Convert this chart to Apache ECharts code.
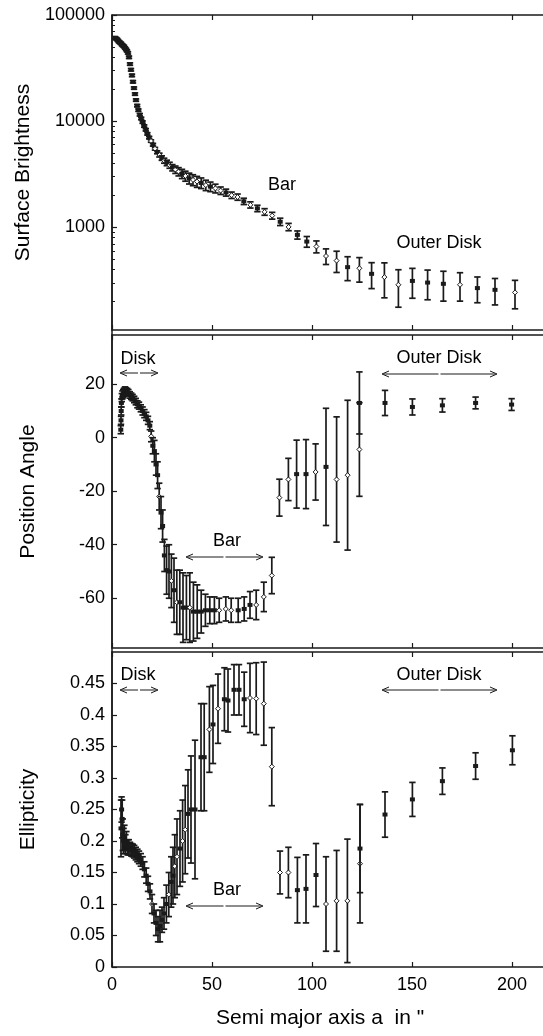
<!DOCTYPE html>
<html>
<head>
<meta charset="utf-8">
<script src="https://cdn.jsdelivr.net/npm/echarts@6/dist/echarts.min.js"></script>
<style>html,body{margin:0;padding:0;background:#fff;overflow:hidden}#main{width:543px;height:1036px}</style>
</head>
<body>
<div id="main"></div>
<script>
// semi major axis (") for each profile, value, error (+/-), marker open (1) or filled (0)
var sbX = [1.5, 2, 2.5, 3, 3.5, 4, 4.5, 5, 5.5, 6, 6.5, 7, 7.5, 8, 8.5, 9, 9.5, 10, 10.5, 11,
  11.5, 12, 12.6, 13.2, 13.9, 14.6, 15.3, 16.1, 16.9, 17.7, 18.6, 19.5, 20.5, 21.5, 22.6, 23.7, 24.9, 26.1, 27.4, 28.8,
  30.2, 31.7, 33.3, 35, 36.7, 38.6, 40.5, 42.5, 44.6, 46.9, 49.2, 51.7, 54.3, 57, 59.8, 62.8, 65.9, 69.2, 72.7, 76.3,
  80.1, 84.1, 88.3, 92.7, 97.4, 102.2, 107, 112.3, 117.8, 123.7, 129.8, 136.2, 143.2, 150.2, 157.8, 165.7, 174, 182.7, 191.5, 201.5];
var sbY = [61000, 60000, 59000, 57500, 56000, 55000, 54000, 52500, 51500, 50500, 49000, 47500, 46000, 44000, 40000, 34500, 30500, 27000, 23500, 20500,
  18000, 15800, 14000, 12700, 11500, 10600, 9800, 9000, 8300, 7600, 7000, 6500, 6000, 5500, 5100, 4800, 4500, 4250, 4050, 3850,
  3650, 3500, 3350, 3200, 3050, 2900, 2800, 2700, 2620, 2500, 2420, 2330, 2220, 2130, 2010, 1930, 1760, 1630, 1510, 1400,
  1290, 1130, 1010, 850, 735, 660, 537, 486, 422, 412, 365, 340, 288, 313, 302, 294, 288, 268, 258, 244];
var sbE = [1500, 1500, 1500, 1400, 1400, 1400, 1300, 1300, 1300, 1300, 1200, 1200, 1100, 1100, 1000, 900, 800, 700, 600, 500,
  450, 400, 350, 320, 300, 270, 250, 230, 210, 190, 180, 170, 170, 160, 160, 200, 220, 230, 240, 250,
  250, 280, 300, 320, 330, 340, 330, 320, 300, 280, 250, 220, 180, 160, 140, 130, 120, 110, 105, 100,
  95, 90, 80, 75, 85, 85, 90, 110, 107, 107, 100, 123, 111, 98, 94, 92, 86, 73, 72, 73];
var sbO = [0, 0, 0, 0, 0, 0, 0, 0, 0, 0, 0, 0, 0, 0, 0, 0, 0, 0, 0, 0,
  0, 0, 0, 0, 0, 0, 0, 0, 0, 0, 0, 1, 0, 1, 0, 1, 0, 1, 0, 1,
  0, 1, 1, 0, 1, 0, 1, 1, 0, 1, 0, 1, 1, 0, 1, 1, 0, 1, 0, 1,
  1, 0, 1, 0, 0, 1, 1, 1, 0, 1, 0, 1, 1, 0, 0, 0, 1, 0, 0, 1];

var paX = [4.4, 4.5, 4.6, 4.7, 4.9, 5.2, 5.6, 6.0, 6.5, 7.0, 7.6, 8.2, 8.9, 9.6, 10.3, 11.1, 11.9, 12.7, 13.5, 14.4,
  15.3, 16.2, 17.1, 18.0, 18.9, 19.6, 20.4, 21.2, 22.0, 22.8, 23.6, 24.5, 25.3, 26.2, 27.3, 28.5, 29.7, 31.0, 32.4, 33.9,
  35.5, 37.2, 38.9, 40.7, 42.6, 44.6, 46.7, 48.9, 51.2, 53.6, 56.9, 59.6, 63.1, 66.1, 69.0, 72.1, 75.9, 79.9, 83.7, 88.2,
  92.3, 97.0, 101.8, 107.0, 112.3, 117.8, 123.7, 123.7, 136.5, 150.2, 165.2, 181.8, 199.8];
var paY = [3, 6.5, 10, 13, 15, 16, 16.5, 17, 17.5, 17.5, 17.2, 16.8, 16, 15.5, 15, 14.3, 13.5, 12.5, 12, 11,
  10, 9, 8, 6.5, 4.5, 0.5, -3, -5, -10, -14, -22, -28, -33, -44, -49.5, -50, -53.5, -57, -61.5, -61.5,
  -63.5, -63.5, -63.5, -65, -65, -65, -64.5, -64.5, -64.5, -64.5, -64, -64.5, -64.5, -64, -62.5, -62.5, -59.5, -51.5, -22.4, -15.6,
  -13.6, -13.6, -12.8, -10.9, -15.6, -14, 13, -4.4, 13, 11.5, 12.1, 13, 12.4];
var paE = [1.5, 1.5, 1.5, 1.5, 1.5, 1.5, 1.5, 1.5, 1.5, 1.2, 1.2, 1.2, 1.2, 1.2, 1.2, 1.2, 1.2, 1.3, 1.3, 1.3,
  1.5, 1.5, 1.5, 1.5, 1.5, 2, 3, 4, 4, 5, 5, 6, 6, 6, 9, 10, 10, 12, 12, 12,
  13, 12, 13, 11, 10, 8, 6, 5, 5, 4.5, 4.5, 4.5, 4.5, 4.5, 5, 5.5, 5.5, 6.8, 6.9, 7.9,
  12.7, 12.9, 10.5, 21.9, 23.4, 28, 11.6, 17.5, 4.7, 3, 2.5, 2.2, 2.2];
var paO = [0, 0, 0, 0, 0, 0, 0, 0, 0, 0, 0, 0, 0, 0, 0, 0, 0, 0, 0, 0,
  0, 0, 0, 0, 0, 1, 0, 0, 0, 0, 1, 0, 0, 0, 0, 0, 1, 0, 1, 0,
  0, 0, 1, 0, 0, 0, 0, 0, 0, 1, 1, 1, 0, 0, 0, 1, 1, 1, 1, 1,
  0, 0, 1, 0, 1, 1, 0, 1, 0, 0, 0, 0, 0];

var elX = [4.5, 4.8, 5.1, 5.4, 5.8, 6.2, 6.7, 7.2, 7.8, 8.4, 9.0, 9.7, 10.4, 11.1, 11.9, 12.7, 13.5, 14.4, 15.3, 16.2,
  17.1, 18.0, 19.0, 20.0, 21.0, 22.0, 23.0, 24.0, 25.0, 26.0, 27.2, 28.4, 29.6, 30.5, 31.4, 32.5, 34.0, 35.3, 36.6, 38.0,
  39.5, 41.5, 44.5, 46.1, 48.7, 50.5, 53.0, 56.2, 58.0, 61.0, 63.5, 66.1, 69.0, 72.1, 75.9, 79.9, 84.0, 88.2, 92.7, 97.0,
  102.0, 107.0, 112.3, 117.7, 124.0, 124.0, 136.5, 150.2, 165.2, 181.8, 200.2];
var elY = [0.22, 0.25, 0.235, 0.21, 0.2, 0.205, 0.195, 0.2, 0.19, 0.19, 0.188, 0.186, 0.185, 0.183, 0.18, 0.177, 0.174, 0.17, 0.165, 0.155,
  0.145, 0.132, 0.12, 0.1, 0.085, 0.07, 0.06, 0.065, 0.075, 0.085, 0.1, 0.115, 0.135, 0.145, 0.16, 0.175, 0.188, 0.2, 0.218, 0.243,
  0.25, 0.25, 0.333, 0.333, 0.377, 0.385, 0.41, 0.425, 0.423, 0.44, 0.44, 0.425, 0.427, 0.426, 0.418, 0.318, 0.15, 0.15, 0.122, 0.124,
  0.146, 0.1, 0.105, 0.105, 0.164, 0.188, 0.242, 0.266, 0.295, 0.319, 0.344];
var elE = [0.045, 0.02, 0.03, 0.025, 0.02, 0.02, 0.015, 0.015, 0.012, 0.012, 0.01, 0.01, 0.01, 0.01, 0.01, 0.01, 0.01, 0.01, 0.01, 0.012,
  0.012, 0.012, 0.012, 0.015, 0.015, 0.02, 0.02, 0.025, 0.02, 0.025, 0.03, 0.035, 0.04, 0.045, 0.05, 0.06, 0.06, 0.065, 0.07, 0.07,
  0.085, 0.11, 0.085, 0.085, 0.068, 0.062, 0.055, 0.05, 0.05, 0.04, 0.04, 0.043, 0.055, 0.057, 0.066, 0.062, 0.034, 0.04, 0.052, 0.054,
  0.05, 0.075, 0.08, 0.098, 0.094, 0.07, 0.036, 0.027, 0.021, 0.021, 0.023];
var elO = [0, 0, 0, 0, 0, 0, 0, 0, 0, 0, 0, 0, 0, 0, 0, 0, 0, 0, 0, 0,
  0, 0, 0, 1, 0, 0, 0, 0, 0, 0, 0, 1, 0, 0, 1, 1, 0, 1, 1, 0,
  0, 0, 0, 0, 1, 0, 1, 0, 0, 0, 0, 0, 1, 1, 1, 1, 1, 1, 0, 0,
  0, 1, 1, 1, 1, 0, 0, 0, 0, 0, 0];

// tick labels
var xTicks = [0, 50, 100, 150, 200];
var sbTicks = [1000, 10000, 100000];
var sbMinor = [200, 300, 400, 500, 600, 700, 800, 900, 2000, 3000, 4000, 5000, 6000, 7000, 8000, 9000,
  20000, 30000, 40000, 50000, 60000, 70000, 80000, 90000];
var paTicks = [-60, -40, -20, 0, 20];
var elTicks = [0, 0.05, 0.1, 0.15, 0.2, 0.25, 0.3, 0.35, 0.4, 0.45];

var ink = '#1a1a1a';
var font = 'Liberation Sans, Arial, sans-serif';

var myChart = echarts.init(document.getElementById('main'));

function pack(xs, ys, es, os) {
  return xs.map(function (x, i) { return [x, ys[i], es[i], os[i]]; });
}

function barItem(params, api) {
  var x = api.value(0), y = api.value(1), e = api.value(2), open = api.value(3);
  var p = api.coord([x, y]);
  var hi = api.coord([x, y + e]);
  var lo = api.coord([x, y - e]);
  var cw = 3.2;
  var kids = [
    {type: 'line', shape: {x1: p[0], y1: hi[1], x2: p[0], y2: lo[1]}, style: {stroke: ink, lineWidth: 1.7}},
    {type: 'line', shape: {x1: p[0] - cw, y1: hi[1], x2: p[0] + cw, y2: hi[1]}, style: {stroke: ink, lineWidth: 1.7}},
    {type: 'line', shape: {x1: p[0] - cw, y1: lo[1], x2: p[0] + cw, y2: lo[1]}, style: {stroke: ink, lineWidth: 1.7}}
  ];
  if (open) {
    kids.push({type: 'polygon', shape: {points: [[p[0], p[1] - 2.5], [p[0] + 2.5, p[1]], [p[0], p[1] + 2.5], [p[0] - 2.5, p[1]]]},
      style: {fill: '#fff', stroke: ink, lineWidth: 1}});
  } else {
    kids.push({type: 'rect', shape: {x: p[0] - 2.5, y: p[1] - 2, width: 5, height: 4}, style: {fill: ink}});
  }
  return {type: 'group', children: kids};
}

function xAx(grid, pos, labels) {
  return {
    type: 'value', gridIndex: grid, position: pos, min: 0, max: 240,
    axisLine: {show: true, onZero: false, lineStyle: {color: ink, width: 1.5}},
    axisTick: {show: true, inside: true, length: 5, customValues: xTicks, lineStyle: {color: ink, width: 1.2}},
    axisLabel: {show: labels, customValues: xTicks, color: '#000', fontSize: 18, fontFamily: font, margin: 9},
    splitLine: {show: false}
  };
}

function yLabel(v) { return String(Math.round(v)); }

function arrow(x1, x2, y) {
  var st = {stroke: ink, lineWidth: 1};
  var mid = (x1 + x2) / 2;
  return {type: 'group', children: [
    {type: 'polyline', shape: {points: [[x1 + 7, y - 3], [x1, y], [x1 + 7, y + 3]]}, style: st},
    {type: 'line', shape: {x1: x1 + 2, y1: y, x2: mid - 1, y2: y}, style: st},
    {type: 'line', shape: {x1: mid + 1, y1: y, x2: x2 - 2, y2: y}, style: st},
    {type: 'polyline', shape: {points: [[x2 - 7, y - 3], [x2, y], [x2 - 7, y + 3]]}, style: st}
  ]};
}

function note(txt, x, y) {
  return {type: 'text', x: x, y: y, style: {text: txt, font: '18px Liberation Sans', fill: '#000', align: 'center', verticalAlign: 'middle'}};
}

var xName = xAx(2, 'bottom', true);
xName.name = 'Semi major axis a  in "';
xName.nameLocation = 'start';
xName.nameGap = 0;
xName.nameTextStyle = {fontSize: 21, fontFamily: font, color: '#000', align: 'left', verticalAlign: 'top', padding: [41, 0, 0, 104]};

option = {
  animation: false,
  backgroundColor: '#fff',
  grid: [
    {left: 112, top: 15, width: 480, height: 315, outerBoundsMode: 'none'},
    {left: 112, top: 335, width: 480, height: 313, outerBoundsMode: 'none'},
    {left: 112, top: 652, width: 480, height: 315, outerBoundsMode: 'none'}
  ],
  xAxis: [xAx(0, 'bottom', false), xAx(0, 'top', false), xAx(1, 'bottom', false), xAx(1, 'top', false), xName, xAx(2, 'top', false)],
  yAxis: [
    {type: 'log', logBase: 10, gridIndex: 0, position: 'left', min: 108, max: 100000,
      name: 'Surface Brightness', nameLocation: 'middle', nameGap: 73, nameRotate: 90,
      nameTextStyle: {fontSize: 21, fontFamily: font, color: '#000'},
      axisLine: {show: true, lineStyle: {color: ink, width: 1.5}},
      axisTick: {show: true, inside: true, length: 5, customValues: sbTicks, lineStyle: {color: ink, width: 1.2}},
      axisLabel: {customValues: sbTicks, formatter: yLabel, color: '#000', fontSize: 18, fontFamily: font, margin: 7},
      splitLine: {show: false}},
    {type: 'log', logBase: 10, gridIndex: 0, position: 'left', min: 108, max: 100000,
      axisLine: {show: false},
      axisTick: {show: true, inside: true, length: 3, customValues: sbMinor, lineStyle: {color: ink, width: 1}},
      axisLabel: {show: false},
      splitLine: {show: false}},
    {type: 'value', gridIndex: 1, position: 'left', min: -78.6, max: 38.4,
      name: 'Position Angle', nameLocation: 'middle', nameGap: 73, nameRotate: 90,
      nameTextStyle: {fontSize: 21, fontFamily: font, color: '#000'},
      axisLine: {show: true, onZero: false, lineStyle: {color: ink, width: 1.5}},
      axisTick: {show: true, inside: true, length: 5, customValues: paTicks, lineStyle: {color: ink, width: 1.2}},
      axisLabel: {customValues: paTicks, formatter: yLabel, color: '#000', fontSize: 18, fontFamily: font, margin: 7},
      splitLine: {show: false}},
    {type: 'value', gridIndex: 2, position: 'left', min: 0, max: 0.5,
      name: 'Ellipticity', nameLocation: 'middle', nameGap: 73, nameRotate: 90,
      nameTextStyle: {fontSize: 21, fontFamily: font, color: '#000'},
      axisLine: {show: true, onZero: false, lineStyle: {color: ink, width: 1.5}},
      axisTick: {show: true, inside: true, length: 5, customValues: elTicks, lineStyle: {color: ink, width: 1.2}},
      axisLabel: {customValues: elTicks, formatter: function (v) { return String(+(+v).toFixed(2)); },
        color: '#000', fontSize: 18, fontFamily: font, margin: 7},
      splitLine: {show: false}}
  ],
  series: [
    {type: 'custom', name: 'Surface Brightness', xAxisIndex: 0, yAxisIndex: 0, renderItem: barItem,
      encode: {x: 0, y: 1}, clip: true, data: pack(sbX, sbY, sbE, sbO)},
    {type: 'custom', name: 'Position Angle', xAxisIndex: 2, yAxisIndex: 2, renderItem: barItem,
      encode: {x: 0, y: 1}, clip: true, data: pack(paX, paY, paE, paO)},
    {type: 'custom', name: 'Ellipticity', xAxisIndex: 4, yAxisIndex: 3, renderItem: barItem,
      encode: {x: 0, y: 1}, clip: true, data: pack(elX, elY, elE, elO)}
  ],
  graphic: [
    {type: 'line', shape: {x1: 112, y1: 15, x2: 112, y2: 967}, style: {stroke: ink, lineWidth: 1.5}},
    note('Bar', 282, 185),
    note('Outer Disk', 439, 243),
    note('Disk', 138, 359), arrow(120, 158, 373),
    note('Outer Disk', 439, 358), arrow(382, 497, 374),
    note('Bar', 227, 541), arrow(186, 263, 557),
    note('Disk', 138, 675), arrow(120, 158, 690),
    note('Outer Disk', 439, 675), arrow(382, 497, 690),
    note('Bar', 227, 890), arrow(186, 263, 906)
  ]
};

myChart.setOption(option);
</script>
</body>
</html>
